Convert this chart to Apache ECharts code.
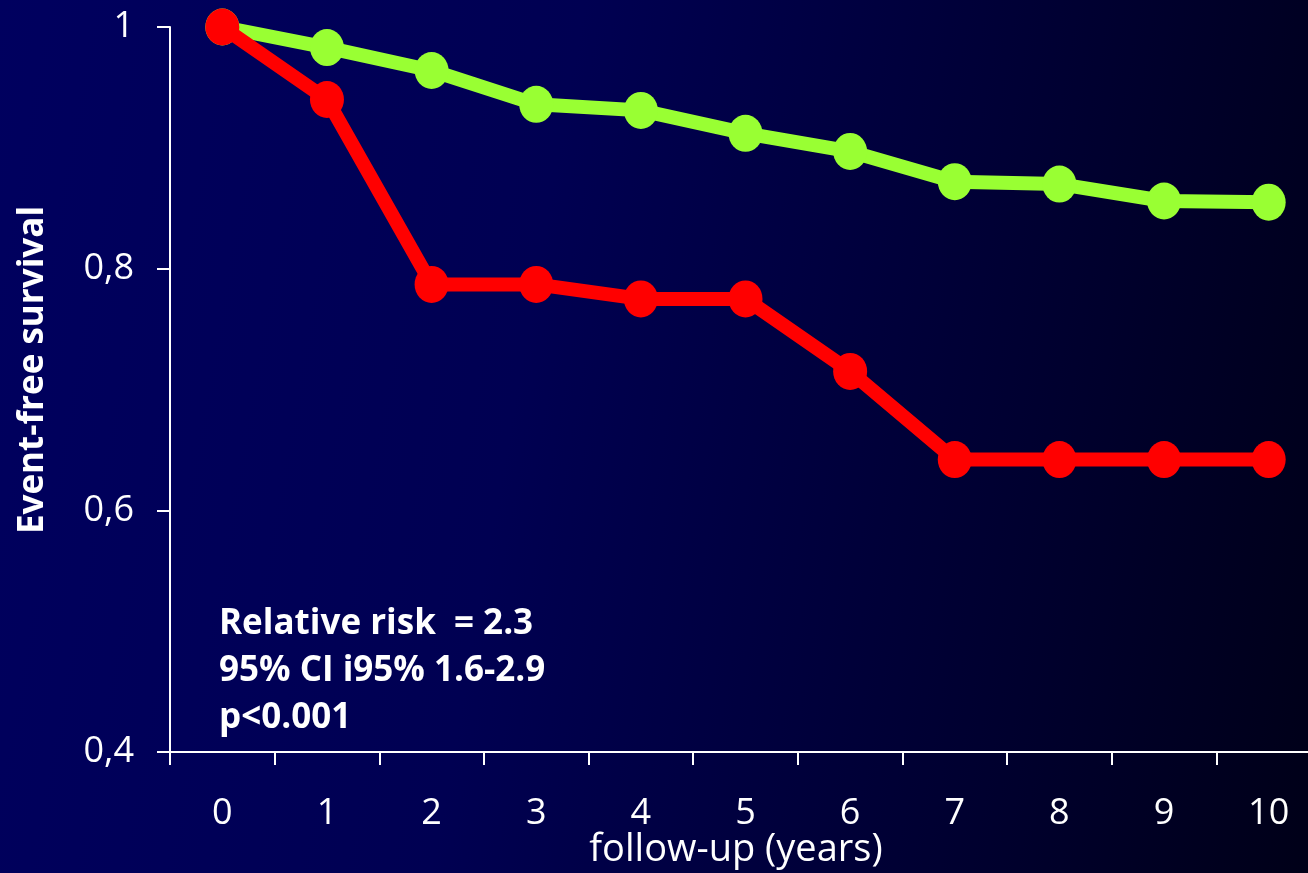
<!DOCTYPE html>
<html>
<head>
<meta charset="utf-8">
<script src="https://cdn.jsdelivr.net/npm/echarts@6/dist/echarts.min.js"></script>
<style>
html,body{margin:0;padding:0;overflow:hidden;width:1308px;height:873px;background:#000030;}
#wrap{width:1308px;height:873px;overflow:hidden;background:linear-gradient(100deg,#00005f 0%,#000052 40%,#00002c 80%,#000018 100%);}
#chart{width:1340px;height:873px;}
</style>
</head>
<body>
<div id="wrap"><div id="chart"></div></div>
<script>
var years = ['0','1','2','3','4','5','6','7','8','9','10'];
var greenSeries = [1, 0.983, 0.964, 0.936, 0.931, 0.912, 0.897, 0.872, 0.870, 0.856, 0.855];
var redSeries = [1, 0.940, 0.787, 0.787, 0.775, 0.775, 0.715, 0.642, 0.642, 0.642, 0.642];
var yTicks = [0.4, 0.6, 0.8, 1];
var statsLines = ['Relative risk  = 2.3', '95% CI i95% 1.6-2.9', 'p<0.001'];
var xTitle = 'follow-up (years)';
var yTitle = 'Event-free survival';

var fontFam = '"Open Sans", Lato, sans-serif';
var chart = echarts.init(document.getElementById('chart'));
chart.setOption({
  backgroundColor: 'transparent',
  animation: false,
  grid: {left: 170, top: 27, width: 1151, height: 725, containLabel: false},
  xAxis: {
    type: 'category',
    data: years,
    boundaryGap: true,
    axisLine: {lineStyle: {color: '#fff', width: 2}},
    axisTick: {show: true, length: 13, alignWithLabel: false, lineStyle: {color: '#fff', width: 2}},
    axisLabel: {color: '#fff', fontSize: 36, fontFamily: fontFam, margin: 44}
  },
  yAxis: {
    type: 'value',
    min: yTicks[0],
    max: yTicks[yTicks.length - 1],
    interval: 0.2,
    splitLine: {show: false},
    axisLine: {show: true, lineStyle: {color: '#fff', width: 2}},
    axisTick: {show: true, length: 13, lineStyle: {color: '#fff', width: 2}},
    axisLabel: {color: '#fff', fontSize: 36, fontFamily: fontFam, margin: 36,
      formatter: function (v) { return String(Math.round(v * 10) / 10).replace('.', ','); }}
  },
  series: [
    {type: 'line', data: greenSeries, symbol: 'circle', symbolSize: [34, 37],
      lineStyle: {color: '#99ff33', width: 14}, itemStyle: {color: '#99ff33'}, z: 2},
    {type: 'line', data: redSeries, symbol: 'circle', symbolSize: [34, 37],
      lineStyle: {color: '#ff0000', width: 14}, itemStyle: {color: '#ff0000'}, z: 3}
  ],
  graphic: [
    {type: 'text', left: 219, top: 601,
      style: {text: statsLines.join('\n'), fill: '#fff', font: 'bold 35px ' + fontFam, lineHeight: 47}},
    {type: 'text', x: 736, y: 850,
      style: {text: xTitle, fill: '#fff', font: '38px ' + fontFam, align: 'center', verticalAlign: 'middle'}},
    {type: 'text', x: 33, y: 370, rotation: Math.PI / 2,
      style: {text: yTitle, fill: '#fff', font: 'bold 35px ' + fontFam, align: 'center', verticalAlign: 'middle'}}
  ]
});
</script>
</body>
</html>
